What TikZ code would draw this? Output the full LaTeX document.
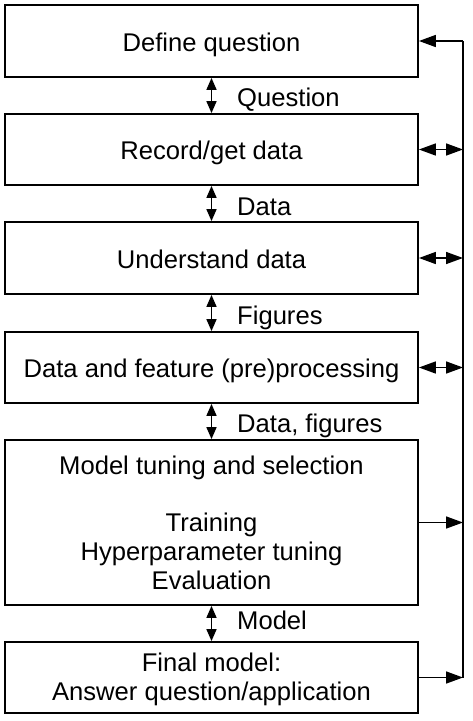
\documentclass[tikz,border=0pt]{standalone}
\usepackage{fontspec}
\setmainfont{Liberation Sans}
\usetikzlibrary{arrows.meta}
\begin{document}
\begin{tikzpicture}[x=1pt,y=-1pt,
  box/.style={draw, line width=1.8pt, minimum width=413pt, inner sep=0pt, align=center,
    font=\fontsize{25.6}{28.7}\selectfont},
  one/.style={text height=20pt, text depth=0pt},
  lbl/.style={anchor=base west, inner sep=0pt, font=\fontsize{25.6}{28.7}\selectfont},
  conn/.style={line width=1.6pt},
  vh/.tip={Triangle[length=12pt,width=10pt]},
  hh/.tip={Triangle[length=17pt,width=12pt]}]
\useasboundingbox (0,0) rectangle (473,721);
\node[box, one, minimum height=72pt] (b1) at (211.5,41) {Define question};
\node[box, one, minimum height=71pt] (b2) at (211.5,149.5) {Record/get data};
\node[box, one, minimum height=72pt] (b3) at (211.5,258) {Understand data};
\node[box, one, minimum height=71pt] (b4) at (211.5,367.5) {Data and feature (pre)processing};
\node[box, minimum height=165pt] (b5) at (211.5,522.5) {Model tuning and selection\\[28.7pt]Training\\Hyperparameter tuning\\Evaluation};
\node[box, minimum height=71pt] (b6) at (211.5,677.5) {\rule{0pt}{22.5pt}Final model:\\Answer question/application};
\node[lbl] (l1) at (237,106) {Question};
\node[lbl] (l2) at (237,215) {Data};
\node[lbl] (l3) at (237,324) {Figures};
\node[lbl] (l4) at (237,432) {Data, figures};
\node[lbl] (l5) at (237,629) {Model};
\draw[conn, vh-vh] (b1.south) -- (b2.north);
\draw[conn, vh-vh] (b2.south) -- (b3.north);
\draw[conn, vh-vh] (b3.south) -- (b4.north);
\draw[conn, vh-vh] (b4.south) -- (b5.north);
\draw[conn, vh-vh] (b5.south) -- (b6.north);
\coordinate (rt) at (463,41);
\coordinate (rb) at (463,677.5);
\draw[conn] (rt) -- (rb);
\draw[conn, -hh] (rt) -- (b1.east);
\draw[conn, hh-hh] (b2.east) -- (b2.east -| rt);
\draw[conn, hh-hh] (b3.east) -- (b3.east -| rt);
\draw[conn, hh-hh] (b4.east) -- (b4.east -| rt);
\draw[conn, -hh] (b5.east) -- (b5.east -| rt);
\draw[conn, -hh] (b6.east) -- (b6.east -| rt);
\end{tikzpicture}
\end{document}
